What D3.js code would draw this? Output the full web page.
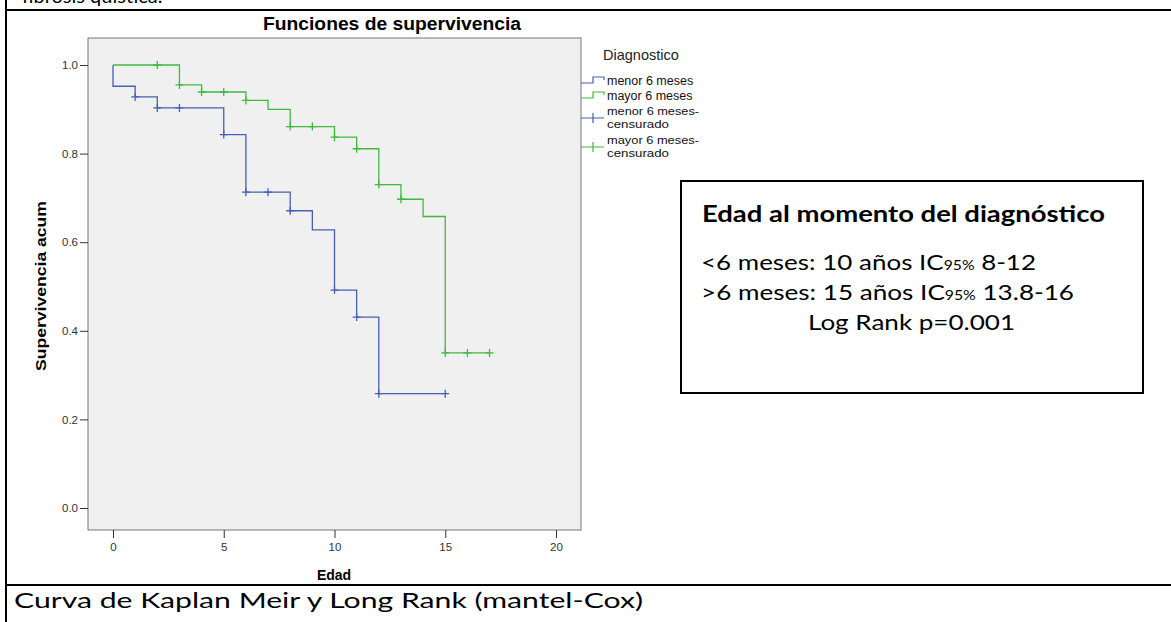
<!DOCTYPE html>
<html>
<head>
<meta charset="utf-8">
<script src="https://cdn.jsdelivr.net/npm/d3@7"></script>
<style>
  body { margin: 0; background: #fff; }
  svg { display: block; }
</style>
</head>
<body>
<div id="chart"></div>
<script>
  //Data
  let groups = ["menor 6 meses", "mayor 6 meses"];
  let blueTimes = [0, 0, 1, 2, 5, 6, 8, 9, 10, 11, 12, 15];
  let blueSurv = [1, 0.952, 0.928, 0.903, 0.843, 0.713, 0.671, 0.628, 0.492, 0.431, 0.258, 0.258];
  let blueCensTimes = [1, 2, 3, 5, 6, 7, 8, 10, 11, 12, 15];
  let greenTimes = [0, 3, 4, 6, 7, 8, 10, 11, 12, 13, 14, 15, 17];
  let greenSurv = [1, 0.955, 0.939, 0.920, 0.900, 0.861, 0.837, 0.811, 0.730, 0.697, 0.658, 0.350, 0.350];
  let greenCensTimes = [2, 3, 4, 5, 6, 8, 9, 10, 11, 12, 13, 15, 16, 17];
  let xTicks = [0, 5, 10, 15, 20];
  let yTicks = [0, 0.2, 0.4, 0.6, 0.8, 1.0];

  let width = 1171, height = 622;
  let blue = "#4660b4", green = "#3fba3f";
  let spssFont = "Liberation Sans, Arial, sans-serif";
  let noteFont = "Lato, 'Open Sans', sans-serif";

  let svg = d3.select("#chart").append("svg")
    .attr("width", width)
    .attr("height", height);

  //Page frame (table cell borders)
  svg.append("text")
    .attr("x", 22).attr("y", 3)
    .attr("font-family", noteFont).attr("font-size", 20)
    .text("fibrosis quística.");
  svg.append("line").attr("x1", 6).attr("x2", width).attr("y1", 10).attr("y2", 10)
    .attr("stroke", "#000").attr("stroke-width", 2);
  svg.append("line").attr("x1", 6).attr("x2", width).attr("y1", 585).attr("y2", 585)
    .attr("stroke", "#000").attr("stroke-width", 2);
  svg.append("line").attr("x1", 6).attr("x2", 6).attr("y1", 0).attr("y2", height)
    .attr("stroke", "#000").attr("stroke-width", 2);

  //Plot box
  let box = {left: 88, right: 581, top: 38, bottom: 530};
  let x = d3.scaleLinear().domain([0, 20]).range([113, 556]);
  let y = d3.scaleLinear().domain([0, 1]).range([508, 65]);

  svg.append("rect")
    .attr("x", box.left).attr("y", box.top)
    .attr("width", box.right - box.left).attr("height", box.bottom - box.top)
    .attr("fill", "#f0f0f0").attr("stroke", "#777").attr("stroke-width", 1);

  //Axes
  let yAxis = svg.append("g")
    .attr("transform", "translate(" + box.left + ",0)")
    .call(d3.axisLeft(y).tickValues(yTicks).tickFormat(d3.format(".1f")).tickSize(8).tickPadding(2));
  let xAxis = svg.append("g")
    .attr("transform", "translate(0," + box.bottom + ")")
    .call(d3.axisBottom(x).tickValues(xTicks).tickSize(8).tickPadding(5));
  [xAxis, yAxis].forEach(function(a) {
    a.select(".domain").remove();
    a.selectAll("line").attr("stroke", "#333");
    a.selectAll("text").attr("font-family", spssFont)
      .attr("font-size", 11.5).attr("fill", "#333");
  });

  //Titles
  svg.append("text")
    .attr("x", 392).attr("y", 30)
    .attr("text-anchor", "middle")
    .attr("font-family", spssFont)
    .attr("font-weight", "bold").attr("font-size", 17.5)
    .attr("textLength", 258).attr("lengthAdjust", "spacingAndGlyphs")
    .text("Funciones de supervivencia");
  svg.append("text")
    .attr("x", 334).attr("y", 580)
    .attr("text-anchor", "middle")
    .attr("font-family", spssFont)
    .attr("font-weight", "bold").attr("font-size", 14)
    .text("Edad");
  svg.append("text")
    .attr("transform", "translate(46,286) rotate(-90)")
    .attr("text-anchor", "middle")
    .attr("font-family", spssFont)
    .attr("font-weight", "bold").attr("font-size", 14.5)
    .attr("textLength", 170).attr("lengthAdjust", "spacingAndGlyphs")
    .text("Supervivencia acum");

  //Survival step curves
  let line = d3.line()
    .x(function(d) { return x(d[0]); })
    .y(function(d) { return y(d[1]); })
    .curve(d3.curveStepAfter);

  function drawSeries(times, surv, cens, color) {
    let pts = times.map(function(t, i) { return [t, surv[i]]; });
    svg.append("path")
      .attr("d", line(pts))
      .attr("fill", "none")
      .attr("stroke", color)
      .attr("stroke-width", 1.3);

    //Survival at a given time (value just after steps at that time)
    function survAt(t) {
      let s = 1;
      for (let i = 0; i < times.length; i++) {
        if (times[i] <= t) s = surv[i];
      }
      return s;
    }
    svg.append("g").selectAll("path")
      .data(cens)
      .enter()
      .append("path")
        .attr("d", function(t) {
          let cx = x(t), cy = y(survAt(t));
          return "M" + (cx - 4) + "," + cy + "H" + (cx + 4) + "M" + cx + "," + (cy - 4) + "V" + (cy + 4);
        })
        .attr("stroke", color)
        .attr("stroke-width", 1.3)
        .attr("fill", "none");
  }
  drawSeries(blueTimes, blueSurv, blueCensTimes, blue);
  drawSeries(greenTimes, greenSurv, greenCensTimes, green);

  //Legend
  svg.append("text")
    .attr("x", 603).attr("y", 60)
    .attr("font-family", spssFont).attr("font-size", 14.5).attr("fill", "#222")
    .text("Diagnostico");

  let legendItems = [
    {type: "step", color: blue, y: 83, lines: [groups[0]]},
    {type: "step", color: green, y: 98, lines: [groups[1]]},
    {type: "cens", color: blue, y: 118, lines: [groups[0] + "-", "censurado"]},
    {type: "cens", color: green, y: 147, lines: [groups[1] + "-", "censurado"]}
  ];
  legendItems.forEach(function(d) {
    if (d.type === "step") {
      svg.append("path")
        .attr("d", "M" + box.right + "," + d.y + "H593V" + (d.y - 6) + "H604V" + (d.y - 3))
        .attr("fill", "none").attr("stroke", d.color).attr("stroke-width", 1.2);
      svg.append("text")
        .attr("x", 607).attr("y", d.y + 2)
        .attr("font-family", spssFont).attr("font-size", 12.5).attr("fill", "#111")
        .text(d.lines[0]);
    } else {
      svg.append("path")
        .attr("d", "M" + box.right + "," + d.y + "H604M593," + (d.y - 5) + "V" + (d.y + 5))
        .attr("fill", "none").attr("stroke", d.color).attr("stroke-width", 1.2);
      d.lines.forEach(function(l, i) {
        svg.append("text")
          .attr("x", 607).attr("y", d.y - 3 + i * 12.5)
          .attr("font-family", spssFont).attr("font-size", 11.5).attr("fill", "#111")
          .attr("textLength", i === 0 ? 92 : 62).attr("lengthAdjust", "spacingAndGlyphs")
          .text(l);
      });
    }
  });

  //Annotation box
  svg.append("rect")
    .attr("x", 681).attr("y", 181)
    .attr("width", 462).attr("height", 212)
    .attr("fill", "#fff").attr("stroke", "#000").attr("stroke-width", 2);
  svg.append("text")
    .attr("x", 702).attr("y", 222)
    .attr("font-family", noteFont).attr("font-weight", "bold").attr("font-size", 23)
    .attr("textLength", 403).attr("lengthAdjust", "spacingAndGlyphs")
    .text("Edad al momento del diagnóstico");

  let noteLines = [
    {pre: "<6 meses: 10 años IC", post: " 8-12", len: 335, y: 270},
    {pre: ">6 meses: 15 años IC", post: " 13.8-16", len: 373, y: 300}
  ];
  noteLines.forEach(function(d) {
    let t = svg.append("text")
      .attr("x", 701).attr("y", d.y)
      .attr("font-family", noteFont).attr("font-size", 21.5)
      .attr("textLength", d.len).attr("lengthAdjust", "spacingAndGlyphs");
    t.append("tspan").text(d.pre);
    t.append("tspan").attr("font-size", 13).text("95%");
    t.append("tspan").text(d.post);
  });
  svg.append("text")
    .attr("x", 808).attr("y", 330)
    .attr("font-family", noteFont).attr("font-size", 21.5)
    .attr("textLength", 207).attr("lengthAdjust", "spacingAndGlyphs")
    .text("Log Rank p=0.001");

  //Caption
  svg.append("text")
    .attr("x", 14).attr("y", 608)
    .attr("font-family", noteFont).attr("font-size", 22)
    .attr("textLength", 629).attr("lengthAdjust", "spacingAndGlyphs")
    .text("Curva de Kaplan Meir y Long Rank (mantel-Cox)");
</script>
</body>
</html>
